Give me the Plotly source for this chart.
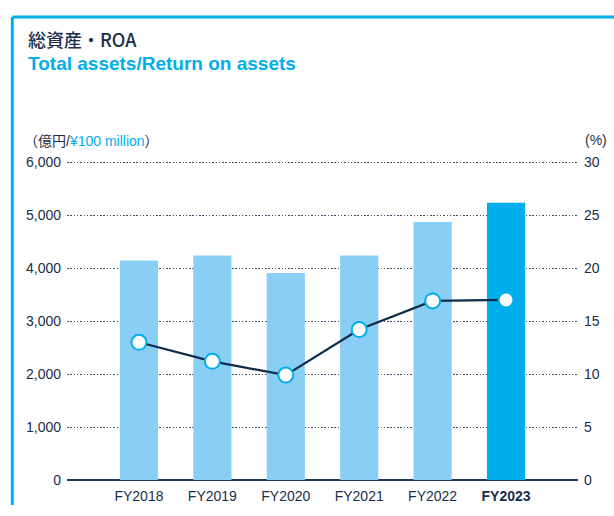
import plotly.graph_objects as go

# ---- data ----
years = ["FY2018", "FY2019", "FY2020", "FY2021", "FY2022", "FY2023"]
year_labels = ["FY2018", "FY2019", "FY2020", "FY2021", "FY2022", "<b>FY2023</b>"]
total_assets = [4145, 4236, 3909, 4236, 4873, 5236]   # 億円 / ¥100 million
roa = [13.0, 11.2, 9.9, 14.2, 16.9, 17.0]             # %
left_ticks = [0, 1000, 2000, 3000, 4000, 5000, 6000]
left_tick_text = ["0", "1,000", "2,000", "3,000", "4,000", "5,000", "6,000"]
right_ticks = [0, 5, 10, 15, 20, 25, 30]

# ---- style ----
W, H = 614, 516
ML, MR, MT, MB = 67, 36, 159, 24
PW, PH = W - ML - MR, H - MT - MB
NAVY = "#1a2e4a"
CYAN = "#00AEEB"
LIGHT = "#89CFF5"
FONT = "Liberation Sans, Arial, Noto Sans CJK JP, sans-serif"
JFONT = "Noto Sans CJK JP, Liberation Sans, sans-serif"


def px(x):
    return (x - ML) / PW


def py(y):
    return (H - MB - y) / PH


bar_colors = [LIGHT] * (len(years) - 1) + [CYAN]

fig = go.Figure()
fig.add_trace(go.Bar(
    x=years, y=total_assets, marker=dict(color=bar_colors, line=dict(width=0)),
    yaxis="y", showlegend=False, hoverinfo="skip",
))
fig.add_trace(go.Scatter(
    x=years, y=roa, yaxis="y2", mode="lines+markers",
    line=dict(color="#0f2a4a", width=2.2),
    marker=dict(size=15, color="white", line=dict(color=CYAN, width=2)),
    showlegend=False, hoverinfo="skip",
))

fig.update_layout(
    width=W, height=H,
    margin=dict(l=ML, r=MR, t=MT, b=MB, pad=0),
    paper_bgcolor="white", plot_bgcolor="white",
    bargap=0.48,
    font=dict(family=FONT, size=14, color=NAVY),
    xaxis=dict(
        type="category", range=[-0.98, 5.98],
        tickvals=years, ticktext=year_labels,
        showgrid=False, showline=False, zeroline=False, ticks="",
        ticklabelstandoff=6,
        tickfont=dict(family=FONT, size=14, color=NAVY),
    ),
    yaxis=dict(
        range=[0, 6060], tickvals=left_ticks, ticktext=left_tick_text,
        showgrid=True, gridcolor="#3f5068", griddash="1.5px,1.8px", gridwidth=1.2,
        zeroline=True, zerolinecolor="#1b3a5e", zerolinewidth=2,
        showline=False, ticks="", ticklabelstandoff=5,
        tickfont=dict(family=FONT, size=14, color=NAVY),
    ),
    yaxis2=dict(
        range=[0, 30.3], tickvals=right_ticks, overlaying="y", side="right",
        showgrid=False, zeroline=False, showline=False, ticks="",
        ticklabelstandoff=5,
        tickfont=dict(family=FONT, size=14, color=NAVY),
    ),
)

# frame lines (top + left)
fig.add_shape(type="line", xref="paper", yref="paper",
              x0=px(12.3), x1=px(W + 2), y0=py(11.7), y1=py(11.7),
              line=dict(color=CYAN, width=3))
fig.add_shape(type="line", xref="paper", yref="paper",
              x0=px(12.3), x1=px(12.3), y0=py(11.7), y1=py(H + 2),
              line=dict(color=CYAN, width=3))

# titles
fig.add_annotation(xref="paper", yref="paper", x=px(26), y=py(35),
                   xanchor="left", yanchor="middle", showarrow=False,
                   text="総資産・ROA",
                   font=dict(family=JFONT, size=18, color=NAVY, weight=500))
fig.add_annotation(xref="paper", yref="paper", x=px(26), y=py(60),
                   xanchor="left", yanchor="middle", showarrow=False,
                   text="<b>Total assets/Return on assets</b>",
                   font=dict(family=FONT, size=19, color=CYAN))
# units
fig.add_annotation(xref="paper", yref="paper", x=px(22), y=py(140),
                   xanchor="left", yanchor="middle", showarrow=False,
                   text=f"（億円/<span style='color:{CYAN}'>¥100 million</span>）",
                   font=dict(family=FONT, size=14, color=NAVY))
fig.add_annotation(xref="paper", yref="paper", x=px(609), y=py(139),
                   xanchor="right", yanchor="middle", showarrow=False,
                   text="(%)",
                   font=dict(family=FONT, size=14, color=NAVY))

fig.write_html("out.html", config={"displayModeBar": False},
               post_script="document.body.style.margin='0';")
